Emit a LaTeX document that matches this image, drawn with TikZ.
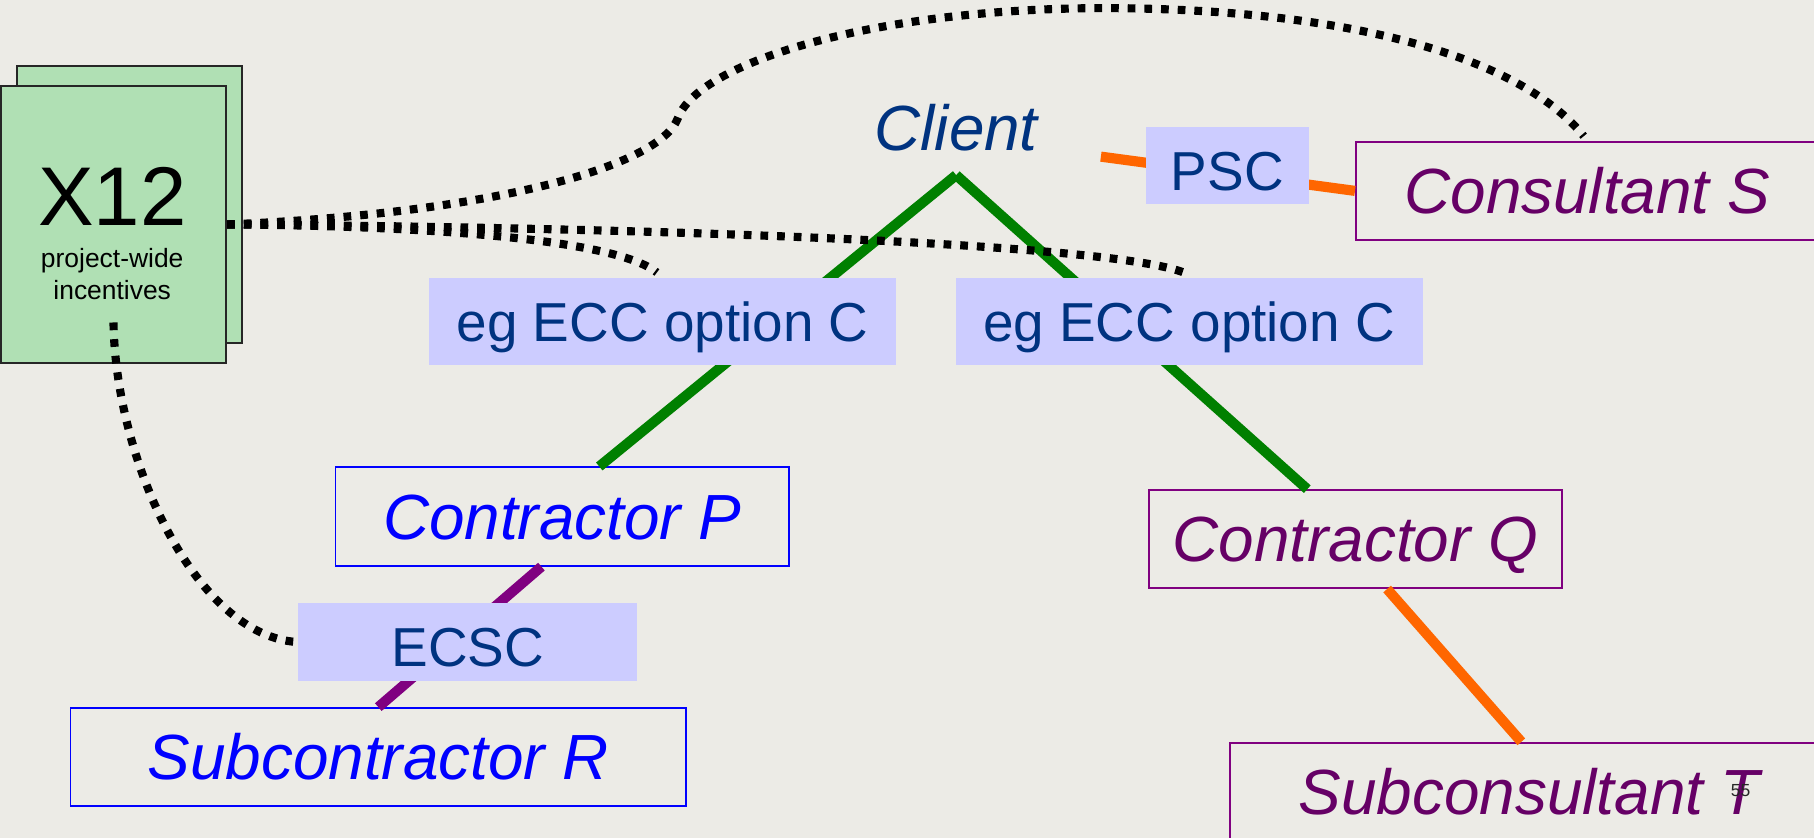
\documentclass[tikz,border=0pt]{standalone}
\usepackage{fontspec}
\setmainfont{Liberation Sans}
\usetikzlibrary{positioning}

\definecolor{slidebg}{RGB}{236,235,230}
\definecolor{incgreen}{RGB}{176,224,180}
\definecolor{lavender}{RGB}{204,204,255}
\definecolor{navy}{RGB}{0,51,128}
\definecolor{plum}{RGB}{102,0,102}
\definecolor{purpleline}{RGB}{128,0,128}
\definecolor{linegreen}{RGB}{0,128,0}
\definecolor{orangeline}{RGB}{255,102,0}

\begin{document}
\begin{tikzpicture}[x=0.1mm,y=-0.1mm,
    x12box/.style={draw=black!85,fill=incgreen,line width=0.6pt,minimum width=19.43mm,minimum height=23.94mm},
    partybox/.style={draw,line width=0.45pt,inner sep=0pt,minimum height=8.5mm,
        text height=11.2pt,text depth=0pt,font=\fontsize{15.7}{18}\selectfont\itshape},
    bluebox/.style={partybox,draw=blue,text=blue},
    plumbox/.style={partybox,draw=purpleline,text=plum},
    contract/.style={fill=lavender,inner sep=0pt,text=navy,minimum height=7.55mm,
        text height=9.9pt,text depth=0pt,font=\fontsize{13.5}{16}\selectfont},
    greenlink/.style={draw=linegreen,line width=2.5pt},
    orangelink/.style={draw=orangeline,line width=2.5pt},
    purplelink/.style={draw=purpleline,line width=2.5pt},
    dotlink/.style={draw=black,line width=2pt,dash pattern=on 1.9pt off 2.2pt}]

\path[use as bounding box,fill=slidebg] (0,0) rectangle (1568,724);
\clip (0,0) rectangle (1568,724);

% X12 stack
\node[x12box] (x12back) at (112,176.75) {};
\node[x12box] (x12) at (98.1,194) {};
\node[anchor=base,font=\fontsize{20.5}{21}\selectfont] (x12name) at (97,194.5) {X12};
\node[anchor=base,font=\fontsize{6.5}{7.8}\selectfont] (x12note) at (97,231.6) {project-wide};
\node[anchor=base,font=\fontsize{6.5}{7.8}\selectfont] (x12note2) at (97,259) {incentives};

% parties
\node[text=navy,inner xsep=0pt,inner ysep=2.1mm,text height=11.2pt,text depth=0pt,
      font=\fontsize{15.7}{18}\selectfont\itshape] (client) at (826.5,110) {Client};
\node[plumbox,minimum width=40mm] (consS) at (1372,165) {Consultant S};
\node[bluebox,minimum width=39.2mm] (conP) at (486,446.5) {Contractor P};
\node[plumbox,minimum width=35.7mm,minimum height=8.47mm] (conQ) at (1171.5,466) {Contractor Q};
\node[bluebox,minimum width=53.2mm] (subR) at (327,654.5) {Subcontractor R};
\node[plumbox,minimum width=51.8mm] (subT) at (1322,684.5) {Subconsultant T};
\coordinate (clientR) at (951.6,135.4);

% contracts
\path[greenlink] (client.south) edge ([xshift=3.2mm]conP.north)
                                edge ([xshift=-4.15mm]conQ.north);
\path[orangelink] (clientR) edge (consS.west)
                  ([xshift=2.75mm]conQ.south) edge ([xshift=-0.7mm]subT.north);
\path[purplelink] ([xshift=-1.8mm]conP.south) edge (subR.north);

\node[contract,minimum width=40.36mm] (eccP) at (572.8,278) {eg ECC option C};
\node[contract,minimum width=40.36mm] (eccQ) at (1027.8,278) {eg ECC option C};
\node[contract,minimum width=14.05mm,minimum height=6.62mm,text height=12.2pt] (psc) at (1060.8,143) {PSC};
\node[contract,minimum width=29.3mm,minimum height=6.8mm,text height=12.2pt] (ecsc) at (404.5,555) {ECSC};

% incentive links
\draw[dotlink] (x12.east) .. controls (420,185) and (570,145) .. (586,102)
    .. controls (603.5,55) and (751,8) .. (951,7)
    .. controls (1151,7) and (1310,44.5) .. ([xshift=-0.3mm,yshift=0.4mm]consS.north);
\draw[dotlink] (x12.east) .. controls (350,195) and (530,205) .. ([xshift=-0.5mm,yshift=0.4mm]eccP.north);
\draw[dotlink] (x12.east) .. controls (600,197) and (980,212) .. ([yshift=0.2mm]eccQ.north);
\draw[dotlink] ([yshift=3.6mm]x12.south) .. controls (100,400) and (170,550) .. (ecsc.west);

\node[font=\fontsize{4.3}{5}\selectfont,text=black!85] (pageno) at (1504.5,683) {55};

\end{tikzpicture}
\end{document}
